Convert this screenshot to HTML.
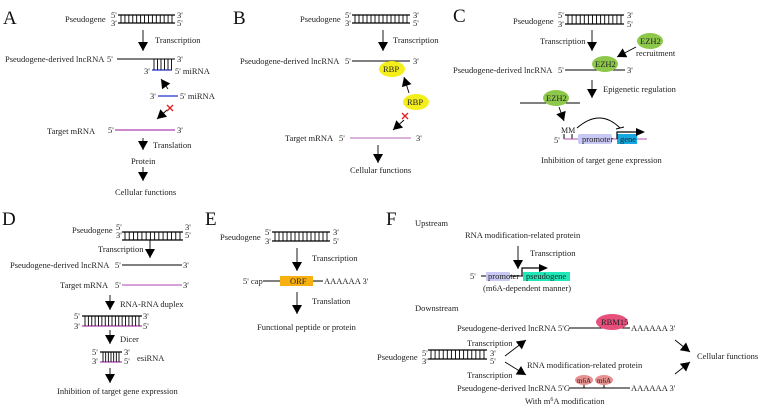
<!DOCTYPE html>
<html><head><meta charset="utf-8"><style>
html,body{margin:0;padding:0;background:#fff}
svg text{font-family:"Liberation Serif",serif;font-size:8.5px;fill:#222}
.L{font-size:19px;fill:#111}
</style></head><body>
<svg id="s" width="767" height="406" viewBox="0 0 767 406" xmlns="http://www.w3.org/2000/svg">
<!-- Panel letters -->
<text class="L" x="3" y="24">A</text>
<text class="L" x="233" y="24">B</text>
<text class="L" x="453" y="22">C</text>
<text class="L" x="2" y="225">D</text>
<text class="L" x="205" y="225">E</text>
<text class="L" x="386" y="225">F</text>

<!-- A -->
<text x="65" y="22">Pseudogene</text>
<text x="111" y="18">5'</text><text x="111" y="26">3'</text>
<text x="177" y="18">3'</text><text x="177" y="26">5'</text>
<text x="155" y="43">Transcription</text>
<text x="5" y="62">Pseudogene-derived lncRNA</text>
<text x="107" y="62">5'</text><text x="177" y="62">3'</text>
<line x1="117" y1="59" x2="175" y2="59" stroke="#000"/>
<line x1="152" y1="70" x2="172" y2="70" stroke="#2233cc" stroke-width="1.3"/>
<text x="144" y="74">3'</text><text x="175" y="74">5'  miRNA</text>
<line x1="158" y1="96" x2="178" y2="96" stroke="#2233cc" stroke-width="1.3"/>
<text x="150" y="99">3'</text><text x="180" y="99">5'  miRNA</text>
<text x="47" y="134">Target mRNA</text>
<text x="108" y="133">5'</text><text x="177" y="133">3'</text>
<line x1="115" y1="130" x2="175" y2="130" stroke="#b040b0" stroke-width="1.2"/>
<text x="153" y="148">Translation</text>
<text x="131" y="164">Protein</text>
<text x="115" y="195">Cellular functions</text>

<!-- B -->
<text x="300" y="22">Pseudogene</text>
<text x="345" y="18">5'</text><text x="345" y="26">3'</text>
<text x="413" y="18">3'</text><text x="413" y="26">5'</text>
<text x="393" y="43">Transcription</text>
<text x="240" y="64">Pseudogene-derived lncRNA</text>
<text x="345" y="64">5'</text><text x="413" y="64">3'</text>
<line x1="352" y1="61" x2="410" y2="61" stroke="#000"/>
<ellipse cx="392" cy="69" rx="13" ry="8" fill="#f4ef1a"/>
<text x="383" y="72">RBP</text>
<ellipse cx="416" cy="102" rx="13" ry="8" fill="#f4ef1a"/>
<text x="407" y="105">RBP</text>
<text x="285" y="141">Target mRNA</text>
<text x="339" y="141">5'</text><text x="416" y="141">3'</text>
<line x1="350" y1="138" x2="411" y2="138" stroke="#cc99cc" stroke-width="1.6"/>
<text x="350" y="173">Cellular functions</text>

<!-- C -->
<text x="513" y="24">Pseudogene</text>
<text x="558" y="18">5'</text><text x="558" y="27">3'</text>
<text x="627" y="18">3'</text><text x="627" y="27">5'</text>
<text x="540" y="44">Transcription</text>
<ellipse cx="650" cy="41" rx="13" ry="8" fill="#8dc84a"/>
<text x="640" y="44">EZH2</text>
<text x="636" y="56">recruitment</text>
<text x="453" y="73">Pseudogene-derived lncRNA</text>
<text x="558" y="73">5'</text><text x="627" y="73">3'</text>
<line x1="565" y1="70" x2="625" y2="70" stroke="#000"/>
<ellipse cx="605" cy="64" rx="13" ry="8" fill="#8dc84a"/>
<text x="595" y="67">EZH2</text>
<text x="603" y="92">Epigenetic regulation</text>
<line x1="520" y1="103" x2="580" y2="103" stroke="#000"/>
<ellipse cx="556" cy="98" rx="13" ry="8" fill="#8dc84a"/>
<text x="546" y="101">EZH2</text>
<text x="561" y="133" style="font-size:8px">MM</text>
<line x1="564" y1="134" x2="564" y2="139" stroke="#000"/><line x1="572" y1="134" x2="572" y2="139" stroke="#000"/>
<text x="554" y="143">5'</text>
<line x1="564" y1="139" x2="647" y2="139" stroke="#b050b0"/>
<rect x="578" y="134" width="34" height="10" rx="2" fill="#c8c8f4"/>
<text x="582" y="142">promoter</text>
<rect x="617" y="134" width="20" height="10" fill="#14a8e0"/>
<text x="620" y="142">gene</text>
<path d="M617,139 V132 H636" stroke="#000" fill="none" stroke-width="1.2"/>
<path d="M636,128 L645,132 L636,136z" fill="#000"/>
<path d="M577,128 Q600,108 620,128" stroke="#000" fill="none"/>
<line x1="616" y1="129" x2="624" y2="127" stroke="#000"/>
<text x="541" y="163">Inhibition of target gene expression</text>

<!-- D -->
<text x="72" y="233">Pseudogene</text>
<text x="116" y="230">5'</text><text x="116" y="238">3'</text>
<text x="185" y="230">3'</text><text x="185" y="238">5'</text>
<text x="98" y="252">Transcription</text>
<text x="10" y="268">Pseudogene-derived lncRNA</text>
<text x="115" y="268">5'</text><text x="183" y="268">3'</text>
<line x1="122" y1="265" x2="182" y2="265" stroke="#000"/>
<text x="60" y="288">Target mRNA</text>
<text x="115" y="288">5'</text><text x="183" y="288">3'</text>
<line x1="122" y1="285" x2="182" y2="285" stroke="#b040b0"/>
<text x="120" y="307">RNA-RNA duplex</text>
<text x="74" y="319">5'</text><text x="74" y="329">3'</text>
<text x="143" y="319">3'</text><text x="143" y="329">5'</text>
<text x="120" y="342">Dicer</text>
<text x="92" y="355">5'</text><text x="92" y="364">3'</text>
<text x="124" y="355">3'</text><text x="124" y="364">5'</text>
<text x="137" y="361">esiRNA</text>
<text x="57" y="394">Inhibition of target gene expression</text>

<!-- E -->
<text x="220" y="240">Pseudogene</text>
<text x="265" y="235">5'</text><text x="265" y="244">3'</text>
<text x="333" y="235">3'</text><text x="333" y="244">5'</text>
<text x="312" y="261">Transcription</text>
<text x="243" y="284">5' cap</text>
<line x1="263" y1="281" x2="280" y2="281" stroke="#000"/>
<rect x="280" y="276" width="33" height="10" fill="#f7b010"/>
<text x="290" y="284">ORF</text>
<line x1="313" y1="281" x2="323" y2="281" stroke="#000"/>
<text x="324" y="284">AAAAAA  3'</text>
<text x="312" y="304">Translation</text>
<text x="257" y="330">Functional peptide or protein</text>

<!-- F -->
<text x="415" y="226">Upstream</text>
<text x="465" y="238">RNA modification-related protein</text>
<text x="530" y="256">Transcription</text>
<text x="470" y="279">5'</text>
<line x1="481" y1="276" x2="486" y2="276" stroke="#000"/>
<rect x="486" y="272" width="24" height="9" rx="1" fill="#c8c8f4"/>
<text x="488" y="279">promoter</text>
<line x1="510" y1="276" x2="523" y2="276" stroke="#000"/>
<rect x="523" y="272" width="47" height="9" fill="#20e8b8"/>
<text x="526" y="279">pseudogene</text>
<path d="M522,276 V268 H540" stroke="#000" fill="none" stroke-width="1.2"/>
<path d="M539,264 L548,268 L539,272z" fill="#000"/>
<text x="483" y="291">(m6A-dependent manner)</text>
<text x="415" y="311">Downstream</text>
<text x="457" y="331">Pseudogene-derived lncRNA  5'G</text>
<line x1="569" y1="328" x2="630" y2="328" stroke="#000"/>
<ellipse cx="612" cy="322" rx="16" ry="8" fill="#e8507c"/>
<text x="601" y="325">RBM15</text>
<text x="631" y="331">AAAAAA  3'</text>
<text x="467" y="346">Transcription</text>
<text x="377" y="360">Pseudogene</text>
<text x="422" y="356">5'</text><text x="422" y="364">3'</text>
<text x="490" y="356">3'</text><text x="490" y="364">5'</text>
<text x="527" y="368">RNA modification-related protein</text>
<text x="467" y="378">Transcription</text>
<text x="457" y="391">Pseudogene-derived lncRNA  5'G</text>
<line x1="569" y1="388" x2="630" y2="388" stroke="#000"/>
<line x1="584" y1="383" x2="584" y2="388" stroke="#000"/><line x1="604" y1="383" x2="604" y2="388" stroke="#000"/>
<ellipse cx="584" cy="380" rx="9" ry="5" fill="#e89090"/>
<ellipse cx="604" cy="380" rx="9" ry="5" fill="#e89090"/>
<text x="577" y="383" style="font-size:7px">m6A</text><text x="597" y="383" style="font-size:7px">m6A</text>
<text x="631" y="391">AAAAAA  3'</text>
<text x="525" y="404">With m<tspan dy="-3" style="font-size:6px">6</tspan><tspan dy="3">A modification</tspan></text>
<text x="697" y="359">Cellular functions</text>
<g id="dyn"></g>
</svg>
<script>
var g=document.getElementById('dyn'),NS='http://www.w3.org/2000/svg';
function el(t,a){var e=document.createElementNS(NS,t);for(var k in a)e.setAttribute(k,a[k]);g.appendChild(e);return e;}
function ln(x1,y1,x2,y2,c,w){el('line',{x1:x1,y1:y1,x2:x2,y2:y2,stroke:c||'#000','stroke-width':w||1});}
function ladder(x1,x2,yt,yb,bc,n){ln(x1,yt,x2,yt,'#000',1.2);ln(x1,yb,x2,yb,bc||'#000',1.2);var k=n||14;for(var i=0;i<k;i++){var x=x1+3+i*(x2-x1-6)/(k-1);ln(x,yt,x,yb,'#000',0.9);}}
function arr(x1,y1,x2,y2,big){ln(x1,y1,x2,y2,'#000',0.9);var a=Math.atan2(y2-y1,x2-x1),L=big?9:7,W=big?5:4;
var bx=x2-L*Math.cos(a),by=y2-L*Math.sin(a),px=-Math.sin(a)*W,py=Math.cos(a)*W;
el('path',{d:'M'+x2+','+y2+' L'+(bx+px)+','+(by+py)+' L'+(bx-px)+','+(by-py)+'z',fill:'#000'});}
function X(x,y){ln(x-3,y-3,x+3,y+3,'#e02020',1.3);ln(x-3,y+3,x+3,y-3,'#e02020',1.3);}
// A
ladder(118,175,15,23);
arr(143,30,143,51,1);
for(var i=0;i<6;i++)ln(154+i*3.5,59,154+i*3.5,70,'#000',0.9);
arr(168,89,161,79,1);
arr(167,110,157,119,1);X(170,108);
arr(143,138,143,150,1);arr(143,167,143,181,1);
// B
ladder(352,410,15,23);
arr(383,30,383,51,1);
arr(409,93,404,77,1);
arr(404,120,393,130,1);X(405,116);
arr(378,145,378,163,1);
// C
ladder(565,624,15,24);
arr(592,30,592,51,1);
arr(636,47,617,57,1);
arr(592,80,592,98,1);
arr(559,107,564,121,1);
// D
ladder(122,183,232,240);
arr(150,240,150,258,1);
arr(110,295,110,310,1);
ladder(82,142,316,326,'#b040b0',17);
arr(110,330,110,344,1);
ladder(100,122,352,362,'#b040b0',7);
arr(110,368,110,383,1);
// E
ladder(272,330,232,241);
arr(297,248,297,271,1);
arr(297,292,297,314,1);
// F
arr(518,246,518,269,1);
ladder(428,487,350,359);
arr(505,356,526,340,1);
arr(505,362,526,375,1);
arr(675,340,690,352,1);
arr(675,374,690,362,1);
</script>
</body></html>
